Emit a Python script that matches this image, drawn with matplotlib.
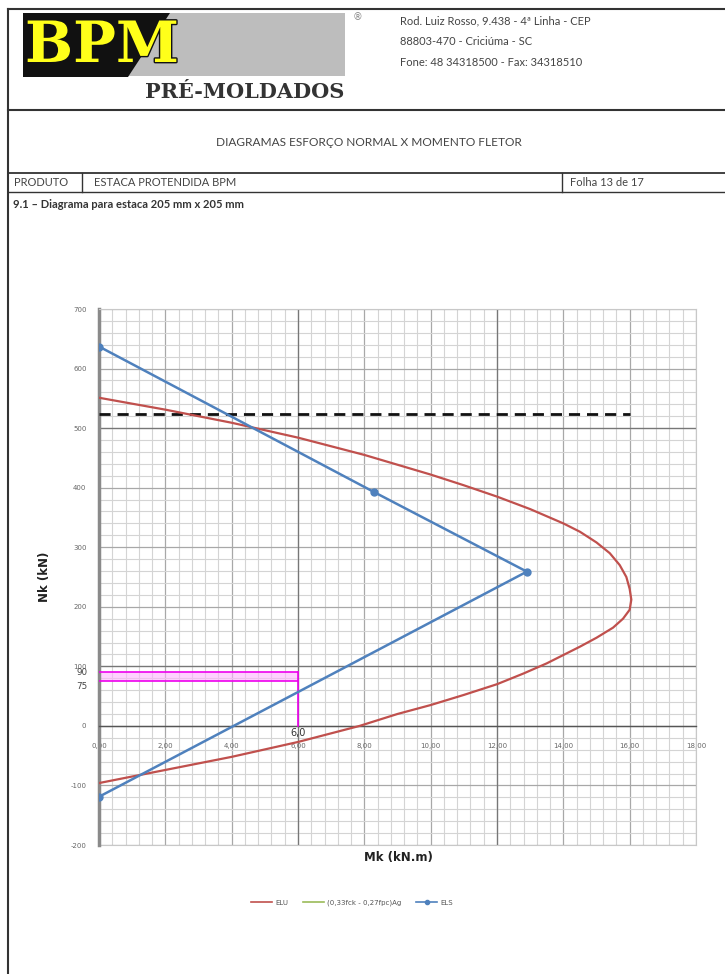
import matplotlib
matplotlib.use("Agg")
import matplotlib.pyplot as plt
from matplotlib.lines import Line2D
from matplotlib.patches import Polygon
import matplotlib.patheffects as pe
import numpy as np

# ---------------- data ----------------
elu_m = [0, 2, 4, 6, 8, 10, 11, 12, 13, 14, 14.5, 15, 15.4, 15.7, 15.9, 16.0, 16.05, 16.0, 15.8, 15.5,
         15.0, 14.5, 14.0, 13.5, 12.8, 12.0, 11.0, 10.0, 9.0, 7.86, 6, 4, 2, 0]
elu_n = [551, 531, 509, 484, 455, 422, 404, 385, 364, 340, 326, 308, 290, 270, 250, 230, 212, 195, 180, 165,
         148, 133, 119, 105, 88, 70, 52, 35, 20, 0, -27, -52, -74, -96]

els_m = [0, 8.28, 12.9, 0]
els_n = [637, 393, 259, -119]

limit_m = [0, 16]
limit_n = [523, 523]

mag_m = [0, 6]
mag_n_top = 90
mag_n_low = 75
mag_v = 6.0

x_ticks = [0, 2, 4, 6, 8, 10, 12, 14, 16, 18]
x_ticklabels = ["0,00", "2,00", "4,00", "6,00", "8,00", "10,00", "12,00", "14,00", "16,00", "18,00"]
y_ticks = [-200, -100, 0, 100, 200, 300, 400, 500, 600, 700]
y_ticklabels = ["-200", "-100", "0", "100", "200", "300", "400", "500", "600", "700"]
ref_x = [6, 12]
ref_y = [100, 500]

legend_labels = ["ELU", "(0,33fck - 0,27fpc)Ag", "ELS"]

# ---------------- figure ----------------
W, H = 725, 974
fig = plt.figure(figsize=(W / 100, H / 100), dpi=100)
fig.patch.set_facecolor("white")

def fx(x):
    return x / W

def fy(y):
    return 1 - y / H

def hline(y, x0, x1, lw=1.2, c="#333333"):
    fig.add_artist(Line2D([fx(x0), fx(x1)], [fy(y), fy(y)], lw=lw, color=c))

def vline(x, y0, y1, lw=1.2, c="#333333"):
    fig.add_artist(Line2D([fx(x), fx(x)], [fy(y0), fy(y1)], lw=lw, color=c))

# page frame
hline(9, 8, 725, lw=1.5)
vline(8, 9, 974, lw=1.5)
hline(110, 8, 725, lw=1.5)
hline(173, 8, 725, lw=1.3)
hline(192, 8, 725, lw=1.0)
vline(82, 173, 192, lw=1.0)
vline(562, 173, 192, lw=1.0)

# logo
gray = Polygon([[fx(23), fy(13)], [fx(345), fy(13)], [fx(345), fy(76)], [fx(23), fy(76)]],
               closed=True, transform=fig.transFigure, facecolor="#bdbdbd", edgecolor="none")
fig.add_artist(gray)
black = Polygon([[fx(23), fy(13)], [fx(170), fy(13)], [fx(128), fy(77)], [fx(23), fy(77)]],
                closed=True, transform=fig.transFigure, facecolor="#111111", edgecolor="none")
fig.add_artist(black)
fig.text(fx(25), fy(46), "BPM", fontsize=41, fontweight="bold", family="DejaVu Serif",
         color="#ffff1a", va="center", ha="left",
         path_effects=[pe.withStroke(linewidth=2, foreground="#111111")])
fig.text(fx(145), fy(92), "PRÉ-MOLDADOS", fontsize=15, fontweight="bold", family="DejaVu Serif",
         color="#333333", va="center", ha="left")
fig.text(fx(358), fy(17), "®", fontsize=7, color="#888888", va="center", ha="center")

addr = ["Rod. Luiz Rosso, 9.438 - 4ª Linha - CEP", "88803-470 - Criciúma - SC", "Fone: 48 34318500 - Fax: 34318510"]
for i, t in enumerate(addr):
    fig.text(fx(400), fy(21 + 20.5 * i), t, fontsize=8, family="Lato", color="#444444", va="center", ha="left")

fig.text(fx(369), fy(143), "DIAGRAMAS ESFORÇO NORMAL X MOMENTO FLETOR", fontsize=8.6, family="Lato",
         color="#444444", va="center", ha="center")
fig.text(fx(14), fy(183), "PRODUTO", fontsize=8, family="Lato", color="#444444", va="center", ha="left")
fig.text(fx(94), fy(183), "ESTACA PROTENDIDA BPM", fontsize=8, family="Lato", color="#444444", va="center", ha="left")
fig.text(fx(570), fy(183), "Folha 13 de 17", fontsize=8, family="Lato", color="#444444", va="center", ha="left")
fig.text(fx(13), fy(205), "9.1 – Diagrama para estaca 205 mm x 205 mm", fontsize=8, family="Lato",
         fontweight="bold", color="#333333", va="center", ha="left")

# ---------------- chart ----------------
L, R, T, B = 99, 696, 309, 845
ax = fig.add_axes([fx(L), fy(B), (R - L) / W, (B - T) / H])
ax.set_xlim(0, 18)
ax.set_ylim(-200, 700)

ax.set_xticks(np.arange(0, 18.01, 0.4), minor=True)
ax.set_yticks(np.arange(-200, 700.1, 20), minor=True)
ax.set_xticks(x_ticks)
ax.set_xticklabels(x_ticklabels)
ax.set_yticks(y_ticks)
ax.set_yticklabels(y_ticklabels)
ax.grid(which="minor", color="#d4d4d4", lw=0.8)
ax.grid(which="major", color="#a8a8a8", lw=0.9)
for v in ref_x:
    ax.axvline(v, color="#777777", lw=0.9, zorder=1)
for v in ref_y:
    ax.axhline(v, color="#777777", lw=0.9, zorder=1)
ax.set_axisbelow(True)

for s in ["top", "right"]:
    ax.spines[s].set_color("#c8c8c8")
    ax.spines[s].set_linewidth(0.8)
ax.spines["bottom"].set_position(("data", 0))
ax.spines["bottom"].set_color("#555555")
ax.spines["bottom"].set_linewidth(1.0)
ax.spines["left"].set_color("#8a8a8a")
ax.spines["left"].set_linewidth(2.5)
ax.add_line(Line2D([0, 18], [-200, -200], color="#c8c8c8", lw=0.8, clip_on=False))

ax.tick_params(axis="both", which="both", length=0)
ax.tick_params(axis="x", pad=12, labelsize=5, labelcolor="#666666")
ax.tick_params(axis="y", pad=9, labelsize=5, labelcolor="#666666")

# magenta zone
ax.fill_between(mag_m, mag_n_low, mag_n_top, color="#ffb3ff", alpha=0.6, lw=0, zorder=2)
ax.plot(mag_m, [mag_n_top, mag_n_top], color="#ee00ee", lw=1.2, zorder=3)
ax.plot(mag_m, [mag_n_low, mag_n_low], color="#ee00ee", lw=1.2, zorder=3)
ax.plot([mag_v, mag_v], [0, mag_n_top], color="#ee00ee", lw=1.2, zorder=3)

ax.plot(limit_m, limit_n, color="#111111", lw=2.0, ls=(0, (4, 2.5)), zorder=4)
ax.plot(elu_m, elu_n, color="#c0504d", lw=1.6, zorder=5)
ax.plot(els_m, els_n, color="#4f81bd", lw=1.8, marker="o", ms=5, zorder=6)

ax.text(-0.35, mag_n_top - 1, "90", fontsize=6.3, color="#444444", ha="right", va="center")
ax.text(-0.35, mag_n_low - 2, "75", fontsize=6.3, color="#444444", ha="right", va="top")
ax.text(mag_v, -4, "6,0", fontsize=7, color="#333333", ha="center", va="top")

ax.set_ylabel("Nk (kN)", fontsize=8.5, fontweight="bold", color="#222222", labelpad=14)
fig.text(fx(398), fy(858), "Mk (kN.m)", fontsize=8.5, fontweight="bold", color="#222222", ha="center", va="center")

handles = [Line2D([], [], color="#c0504d", lw=1.2),
           Line2D([], [], color="#9bbb59", lw=1.2),
           Line2D([], [], color="#4f81bd", lw=1.2, marker="o", ms=3)]
fig.legend(handles, legend_labels, loc="center", bbox_to_anchor=(fx(352), fy(903)), ncol=3,
           frameon=False, fontsize=5, handlelength=3, columnspacing=2.2, handletextpad=0.4,
           labelcolor="#555555")

fig.savefig("out.png", dpi=100, facecolor="white")
